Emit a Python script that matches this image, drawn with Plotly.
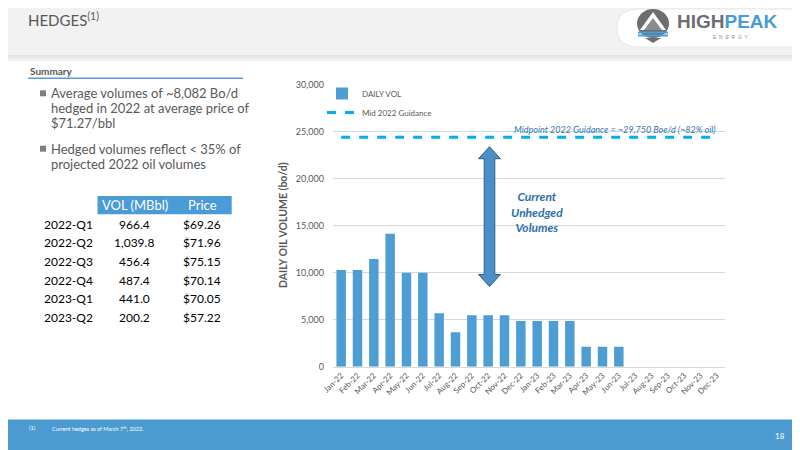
import plotly.graph_objects as go

W, H = 800, 450
OFF = 8  # page body margin the browser adds around the figure

MONTHS = ["Jan-22", "Feb-22", "Mar-22", "Apr-22", "May-22", "Jun-22",
          "Jul-22", "Aug-22", "Sep-22", "Oct-22", "Nov-22", "Dec-22",
          "Jan-23", "Feb-23", "Mar-23", "Apr-23", "May-23", "Jun-23",
          "Jul-23", "Aug-23", "Sep-23", "Oct-23", "Nov-23", "Dec-23"]
DAILY_VOL = [10300, 10300, 11450, 14150, 10000, 10000,
             5680, 3660, 5470, 5470, 5470, 4870,
             4870, 4870, 4870, 2130, 2130, 2130,
             None, None, None, None, None, None]
GUIDANCE = [24400, 24400, 24400, 24400, 24400, 24400,
            24400, 24400, 24400, 24400, 24400, 24400,
            24400, 24400, 24400, 24400, 24400, 24400,
            24400, 24400, 24400, 24400, 24400, 24400]
Y_TICKS = [0, 5000, 10000, 15000, 20000, 25000, 30000]

QUARTERS = ["2022-Q1", "2022-Q2", "2022-Q3", "2022-Q4", "2023-Q1", "2023-Q2"]
VOL_MBBL = ["966.4", "1,039.8", "456.4", "487.4", "441.0", "200.2"]
PRICES = ["$69.26", "$71.96", "$75.15", "$70.14", "$70.05", "$57.22"]
TABLE_HEAD = ["VOL (MBbl)", "Price"]

BULLETS = [["Average volumes of ~8,082 Bo/d", "hedged in 2022 at average price of", "$71.27/bbl"],
           ["Hedged volumes reflect < 35% of", "projected 2022 oil volumes"]]

BAR_COL = "#4e9dd3"
GUIDE_COL = "#00b0f0"
TEXT_COL = "#595959"
FONT = "Lato"


def px(x):
    return (x - OFF) / W


def py(y):
    return 1 - (y - OFF) / H


fig = go.Figure()

fig.add_trace(go.Bar(x=MONTHS, y=DAILY_VOL, name="DAILY VOL",
                     marker=dict(color=BAR_COL, line=dict(width=0))))
fig.add_trace(go.Scatter(x=MONTHS, y=GUIDANCE, name="Mid 2022 Guidance", mode="lines",
                         line=dict(color=GUIDE_COL, width=3, dash="dash")))

fig.update_layout(
    width=W, height=H,
    margin=dict(l=0, r=0, t=0, b=0, pad=0),
    paper_bgcolor="white", plot_bgcolor="white",
    font=dict(family=FONT, color=TEXT_COL),
    bargap=0.42,
    showlegend=True,
    legend=dict(x=px(322), y=py(79), xanchor="left", yanchor="top",
                font=dict(size=8, color=TEXT_COL), bgcolor="rgba(0,0,0,0)",
                itemwidth=30, tracegroupgap=0),
)
fig.update_xaxes(domain=[px(333), px(725)], tickangle=-45, automargin=False,
                 tickfont=dict(size=8, color=TEXT_COL), showgrid=False,
                 showline=True, linecolor="#d9d9d9", linewidth=1, ticks="")
fig.update_yaxes(domain=[py(366.7), py(84.7)], range=[0, 30000], tickvals=Y_TICKS,
                 automargin=False,
                 tickformat=",d", tickfont=dict(size=9, color=TEXT_COL),
                 showgrid=True, gridcolor="#d9d9d9", gridwidth=1, zeroline=False,
                 showline=False, ticks="", ticklabelstandoff=8)

shapes = []
annos = []

# header band
shapes.append(dict(type="rect", xref="paper", yref="paper", x0=0, x1=1, y0=py(55), y1=1,
                   fillcolor="#f2f2f2", line=dict(width=0), layer="below"))
shapes.append(dict(type="rect", xref="paper", yref="paper", x0=0, x1=1, y0=py(58), y1=py(55),
                   fillcolor="#e4e4e4", line=dict(width=0), layer="below"))
shapes.append(dict(type="rect", xref="paper", yref="paper", x0=0, x1=1, y0=py(61), y1=py(58),
                   fillcolor="#f1f1f1", line=dict(width=0), layer="below"))
annos.append(dict(text="HEDGES<sup>(1)</sup>", xref="paper", yref="paper", x=px(26), y=py(19),
                  xanchor="left", yanchor="middle", showarrow=False,
                  font=dict(size=15, color=TEXT_COL, family=FONT)))

# logo pill
pill = (f"M {px(640)} {py(9)} L 1 {py(9)} L 1 {py(47)} L {px(640)} {py(47)} "
        f"Q {px(617)} {py(47)} {px(617)} {py(28)} Q {px(617)} {py(9)} {px(640)} {py(9)} Z")
shapes.append(dict(type="path", xref="paper", yref="paper", path=pill,
                   fillcolor="white", line=dict(color="#e8e8e8", width=1)))
shapes.append(dict(type="circle", xref="paper", yref="paper", x0=px(637), x1=px(669),
                   y0=py(38), y1=py(9), fillcolor="#6d6e71", line=dict(width=0)))
mount = (f"M {px(640)} {py(30)} L {px(653)} {py(12)} L {px(666)} {py(30)} Z")
shapes.append(dict(type="path", xref="paper", yref="paper", path=mount,
                   fillcolor="white", line=dict(width=0)))
mount2 = (f"M {px(644)} {py(30)} L {px(653)} {py(18)} L {px(662)} {py(30)} Z")
shapes.append(dict(type="path", xref="paper", yref="paper", path=mount2,
                   fillcolor="#8c8d90", line=dict(width=0)))
for wy in (32.5, 35.5):
    shapes.append(dict(type="line", xref="paper", yref="paper", x0=px(638), x1=px(668),
                       y0=py(wy), y1=py(wy), line=dict(color=BAR_COL, width=2)))
chev = f"M {px(645)} {py(38)} L {px(653)} {py(43)} L {px(661)} {py(38)} Z"
shapes.append(dict(type="path", xref="paper", yref="paper", path=chev,
                   fillcolor="#6d6e71", line=dict(width=0)))
annos.append(dict(text="<b>HIGH</b><b><span style='color:#4a9bd4'>PEAK</span></b>",
                  xref="paper", yref="paper", x=px(675), y=py(22), xanchor="left", yanchor="middle",
                  showarrow=False, font=dict(size=19, color="#6d6e71", family="Liberation Sans")))
annos.append(dict(text="E  N  E  R  G  Y", xref="paper", yref="paper", x=px(731), y=py(37),
                  xanchor="center", yanchor="middle", showarrow=False,
                  font=dict(size=5, color="#8c8d90", family="Liberation Sans")))

# summary block
annos.append(dict(text="<b>Summary</b>", xref="paper", yref="paper", x=px(28), y=py(71),
                  xanchor="left", yanchor="middle", showarrow=False,
                  font=dict(size=10, color=TEXT_COL, family=FONT)))
shapes.append(dict(type="line", xref="paper", yref="paper", x0=px(28), x1=px(243),
                   y0=py(78.3), y1=py(78.3), line=dict(color="#5b9bd5", width=1.5)))
line_y = [[93.3, 108, 122.6], [148.7, 164]]
for lines, ys in zip(BULLETS, line_y):
    shapes.append(dict(type="rect", xref="paper", yref="paper", x0=px(40), x1=px(46),
                       y0=py(ys[0] + 3), y1=py(ys[0] - 3), fillcolor="#7f7f7f", line=dict(width=0)))
    for t, yy in zip(lines, ys):
        annos.append(dict(text=t, xref="paper", yref="paper", x=px(49), y=py(yy),
                          xanchor="left", yanchor="middle", showarrow=False,
                          font=dict(size=13, color=TEXT_COL, family=FONT)))

# table
shapes.append(dict(type="rect", xref="paper", yref="paper", x0=px(97.5), x1=px(231.7),
                   y0=py(214.3), y1=py(196), fillcolor="#4a9bd6", line=dict(width=0)))
for t, xx in zip(TABLE_HEAD, [135, 202]):
    annos.append(dict(text=t, xref="paper", yref="paper", x=px(xx), y=py(205.3),
                      xanchor="center", yanchor="middle", showarrow=False,
                      font=dict(size=13, color="white", family=FONT)))
row_y = [224, 242.7, 261.3, 280, 298.7, 317.3]
for q, v, p, yy in zip(QUARTERS, VOL_MBBL, PRICES, row_y):
    annos.append(dict(text=q, xref="paper", yref="paper", x=px(42), y=py(yy), xanchor="left",
                      yanchor="middle", showarrow=False, font=dict(size=12, color="black", family=FONT)))
    annos.append(dict(text=v, xref="paper", yref="paper", x=px(134.5), y=py(yy), xanchor="center",
                      yanchor="middle", showarrow=False, font=dict(size=12, color="black", family=FONT)))
    annos.append(dict(text=p, xref="paper", yref="paper", x=px(202), y=py(yy), xanchor="center",
                      yanchor="middle", showarrow=False, font=dict(size=12, color="black", family=FONT)))

# chart texts
annos.append(dict(text="<b>DAILY OIL VOLUME (bo/d)</b>", xref="paper", yref="paper", x=px(283),
                  y=py(225), textangle=-90, xanchor="center", yanchor="middle", showarrow=False,
                  font=dict(size=10.5, color=TEXT_COL, family=FONT)))
annos.append(dict(text="<i>Midpoint 2022 Guidance = ~29,750 Boe/d (~82% oil)</i>", xref="paper",
                  yref="paper", x=px(718), y=py(129.5), xanchor="right", yanchor="middle",
                  showarrow=False, font=dict(size=9, color="#2e75b6", family=FONT)))
annos.append(dict(text="<b><i>Current<br>Unhedged<br>Volumes</i></b>", xref="paper", yref="paper",
                  x=px(537), y=py(212), xanchor="center", yanchor="middle", showarrow=False,
                  align="center", font=dict(size=12, color="#2e6ea8", family=FONT)))

# double arrow
ax, hw, sw = 489.5, 11, 5.3
top, bot, hh = 146.7, 286.5, 12
arrow = (f"M {px(ax)} {py(top)} L {px(ax + hw)} {py(top + hh)} L {px(ax + sw)} {py(top + hh)} "
         f"L {px(ax + sw)} {py(bot - hh)} L {px(ax + hw)} {py(bot - hh)} L {px(ax)} {py(bot)} "
         f"L {px(ax - hw)} {py(bot - hh)} L {px(ax - sw)} {py(bot - hh)} L {px(ax - sw)} {py(top + hh)} "
         f"L {px(ax - hw)} {py(top + hh)} Z")
shapes.append(dict(type="path", xref="paper", yref="paper", path=arrow,
                   fillcolor="#4a8fc8", line=dict(color="#2f5e8c", width=1)))

# footer
shapes.append(dict(type="rect", xref="paper", yref="paper", x0=0, x1=1, y0=0, y1=py(419.5),
                   fillcolor="#4b9bd0", line=dict(width=0)))
annos.append(dict(text="(1)", xref="paper", yref="paper", x=px(27), y=py(428), xanchor="left",
                  yanchor="middle", showarrow=False, font=dict(size=5.5, color="white", family=FONT)))
annos.append(dict(text="Current hedges as of March 7<sup>th</sup>, 2022.", xref="paper", yref="paper",
                  x=px(50), y=py(428), xanchor="left", yanchor="middle", showarrow=False,
                  font=dict(size=5.5, color="white", family=FONT)))
annos.append(dict(text="18", xref="paper", yref="paper", x=px(787), y=py(436), xanchor="right",
                  yanchor="middle", showarrow=False, font=dict(size=8, color="white", family=FONT)))

fig.update_layout(shapes=shapes, annotations=annos)

fig.write_html("out.html")
